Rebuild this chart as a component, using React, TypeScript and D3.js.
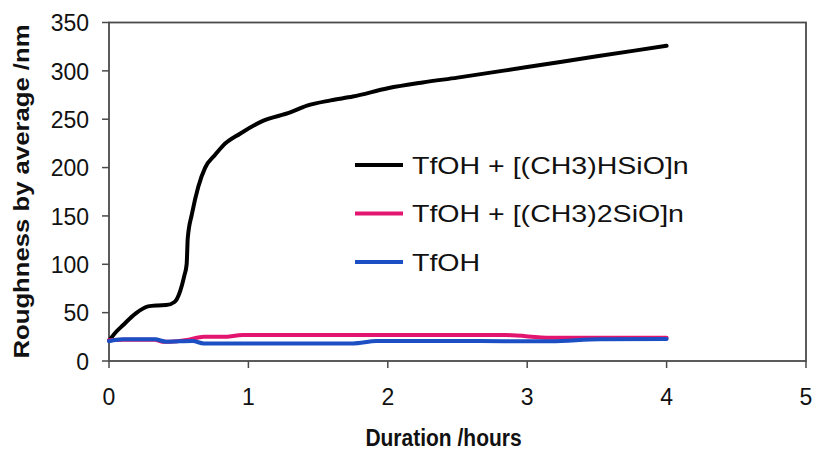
import React from "react";
import * as d3 from "d3";

// Roughness (Ra, nm) versus treatment duration (hours)
const hsioTimes = [0, 0.05, 0.1, 0.19, 0.28, 0.35, 0.41, 0.47, 0.51, 0.54, 0.557, 0.565, 0.595, 0.64, 0.69, 0.76, 0.82, 0.94, 1.1, 1.3, 1.42, 1.59, 1.75, 2.0, 2.25, 2.5, 3.0, 3.5, 4.0];
const hsioValues = [21, 30, 37, 49, 56.5, 57.5, 57.8, 61, 72, 88, 100, 127, 152, 180, 200, 213, 223, 235, 248, 257, 264, 269.5, 273.5, 282, 288, 293, 304, 315, 326];

const me2Times = [0, 0.1, 0.33, 0.38, 0.44, 0.56, 0.68, 0.82, 0.96, 1.5, 2.0, 2.5, 2.85, 3.17, 3.5, 4.0];
const me2Values = [21.5, 22, 22, 20, 20, 21.7, 25, 25, 26.8, 27, 27, 27, 26.8, 24, 24, 24];

const tfohTimes = [0, 0.1, 0.33, 0.41, 0.6, 0.68, 1.0, 1.75, 1.92, 2.5, 3.17, 3.52, 4.0];
const tfohValues = [20.5, 22.4, 22.4, 20, 20.6, 18.2, 18.2, 18.2, 20.6, 20.6, 20.3, 22.5, 22.7];

const seriesNames = ["TfOH + [(CH3)HSiO]n", "TfOH + [(CH3)2SiO]n", "TfOH"];
const seriesColors = ["#000000", "#e3166f", "#1c4fc4"];

const xTicks = [0, 1, 2, 3, 4, 5];
const yTicks = [0, 50, 100, 150, 200, 250, 300, 350];

const W = 816;
const H = 451;
const plot = { left: 109, right: 806, top: 22.5, bottom: 361 };

export default function App() {
  const x = d3.scaleLinear().domain([0, 5]).range([plot.left, plot.right]);
  const y = d3.scaleLinear().domain([0, 350]).range([plot.bottom, plot.top]);

  const line = d3
    .line<[number, number]>()
    .x((d) => x(d[0]))
    .y((d) => y(d[1]))
    .curve(d3.curveMonotoneX);

  const series = [
    { times: hsioTimes, values: hsioValues },
    { times: me2Times, values: me2Values },
    { times: tfohTimes, values: tfohValues },
  ];

  const axisColor = "#4a4a4a";
  const font = "'Liberation Sans', Arial, Helvetica, sans-serif";

  return (
    <svg
      width={W}
      height={H}
      style={{ position: "absolute", left: 0, top: 0, background: "#fff" }}
      fontFamily={font}
    >
      <rect x={0} y={0} width={W} height={H} fill="#fff" />

      {/* plot frame */}
      <rect
        x={plot.left}
        y={plot.top}
        width={plot.right - plot.left}
        height={plot.bottom - plot.top}
        fill="none"
        stroke={axisColor}
        strokeWidth={1.8}
      />

      {/* y axis ticks and labels */}
      {yTicks.map((t) => (
        <g key={"y" + t}>
          <line x1={plot.left - 7} x2={plot.left} y1={y(t)} y2={y(t)} stroke={axisColor} strokeWidth={1.5} />
          <text
            x={89}
            y={y(t)}
            textAnchor="end"
            dominantBaseline="central"
            fontSize={23}
            fill="#111"
            transform={`translate(0 ${y(t)}) scale(1 1.08) translate(0 ${-y(t)})`}
          >
            {t}
          </text>
        </g>
      ))}

      {/* x axis ticks and labels */}
      {xTicks.map((t) => (
        <g key={"x" + t}>
          <line x1={x(t)} x2={x(t)} y1={plot.bottom} y2={plot.bottom + 7} stroke={axisColor} strokeWidth={1.5} />
          <text
            x={x(t)}
            y={396.5}
            textAnchor="middle"
            dominantBaseline="central"
            fontSize={23}
            fill="#111"
            transform={`translate(0 396.5) scale(1 1.08) translate(0 -396.5)`}
          >
            {t}
          </text>
        </g>
      ))}

      {/* axis titles */}
      <text
        transform={`translate(${x(2.5) - 14} 446) scale(1 1.12)`}
        textAnchor="middle"
        fontSize={21}
        fontWeight="bold"
        fill="#111"
      >
        Duration /hours
      </text>
      <text
        transform={`translate(29 191.5) rotate(-90)`}
        textAnchor="middle"
        fontSize={22}
        fontWeight="bold"
        fill="#111"
        textLength={334}
        lengthAdjust="spacingAndGlyphs"
      >
        Roughness by average /nm
      </text>

      {/* data lines */}
      {series.map((s, i) => (
        <path
          key={"s" + i}
          d={line(s.times.map((t, j) => [t, s.values[j]] as [number, number])) || ""}
          fill="none"
          stroke={seriesColors[i]}
          strokeWidth={4}
          strokeLinejoin="round"
          strokeLinecap="round"
        />
      ))}

      {/* legend */}
      {seriesNames.map((name, i) => {
        const ly = 165 + i * 48.5;
        return (
          <g key={"l" + i}>
            <line x1={355} x2={403} y1={ly} y2={ly} stroke={seriesColors[i]} strokeWidth={4} />
            <text
              transform={`translate(412 ${ly + 8.5}) scale(1.19 1)`}
              fontSize={24}
              fill="#111"
            >
              {name}
            </text>
          </g>
        );
      })}
    </svg>
  );
}
